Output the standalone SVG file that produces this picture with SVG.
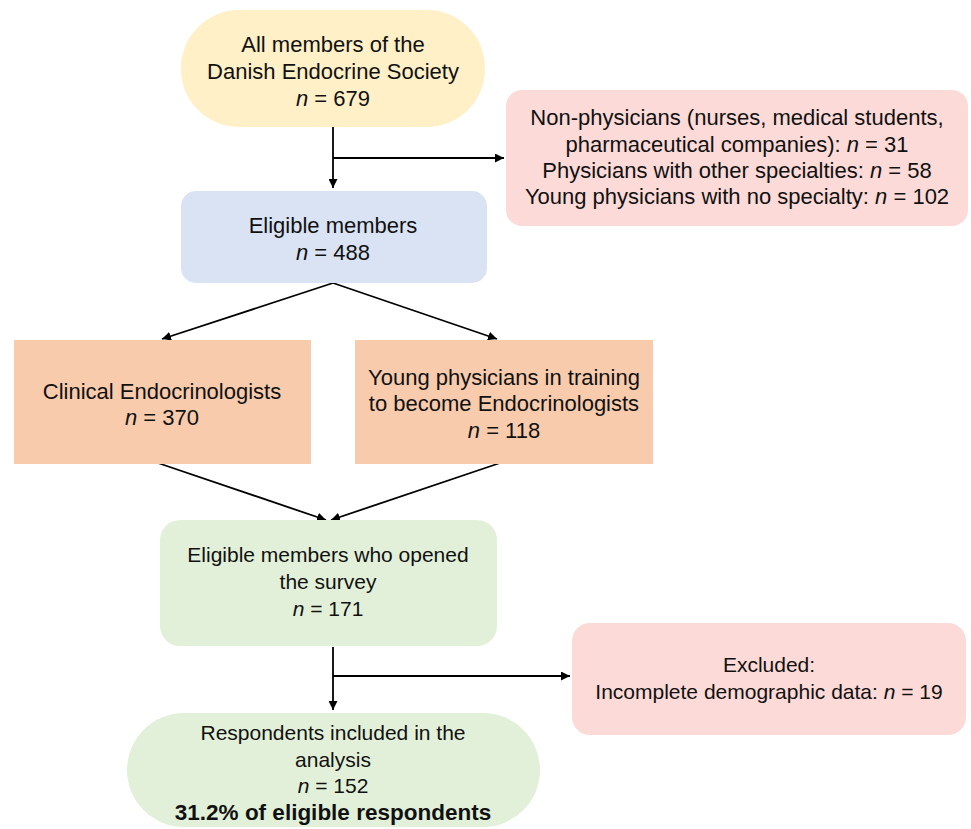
<svg xmlns="http://www.w3.org/2000/svg" width="971" height="829" viewBox="0 0 971 829">
<defs>
<marker id="ah" viewBox="0 0 10 10" refX="10" refY="5" markerWidth="5" markerHeight="5" orient="auto" markerUnits="strokeWidth">
<path d="M0,0 L10,5 L0,10 Z" fill="#000"/>
</marker>
<style>
text{font-family:"Liberation Sans",Arial,sans-serif;font-size:21px;fill:#111;text-anchor:middle}
.u{font-size:22px}
.b{font-weight:bold;font-size:22.5px}
.c{stroke:#000;stroke-width:1.8;fill:none}
</style>
</defs>
<rect width="971" height="829" fill="#fff"/>
<g id="connectors">
<line class="c" x1="333" y1="127" x2="333" y2="188" marker-end="url(#ah)"/>
<line class="c" x1="333" y1="158" x2="504" y2="158" marker-end="url(#ah)"/>
<line class="c" x1="333" y1="283" x2="162" y2="339" marker-end="url(#ah)"/>
<line class="c" x1="333" y1="283" x2="497" y2="339" marker-end="url(#ah)"/>
<line class="c" x1="158" y1="463" x2="326" y2="520" marker-end="url(#ah)"/>
<line class="c" x1="500" y1="463" x2="331" y2="520" marker-end="url(#ah)"/>
<line class="c" x1="333" y1="647" x2="333" y2="710" marker-end="url(#ah)"/>
<line class="c" x1="333" y1="676" x2="570" y2="676" marker-end="url(#ah)"/>
</g>
<g id="all-members" class="u">
<rect x="181" y="10" width="304" height="117" rx="58" fill="#FFF0C7"/>
<text class="u" x="333" y="52">All members of the</text>
<text class="u" x="333" y="79">Danish Endocrine Society</text>
<text class="u" x="333" y="106"><tspan font-style="italic">n</tspan> = 679</text>
</g>
<g id="excluded-1">
<rect x="506" y="90" width="462" height="136" rx="16" fill="#FCDAD7"/>
<text class="u" x="737" y="125">Non-physicians (nurses, medical students,</text>
<text class="u" x="737" y="152">pharmaceutical  companies): <tspan font-style="italic">n</tspan> = 31</text>
<text class="u" x="737" y="178">Physicians with other specialties: <tspan font-style="italic">n</tspan> = 58</text>
<text class="u" x="737" y="204">Young physicians with no specialty: <tspan font-style="italic">n</tspan> = 102</text>
</g>
<g id="eligible">
<rect x="181" y="191" width="306" height="92" rx="15" fill="#DAE3F3"/>
<text class="u" x="333" y="233">Eligible members</text>
<text class="u" x="333" y="260"><tspan font-style="italic">n</tspan> = 488</text>
</g>
<g id="clinical">
<rect x="14" y="340" width="297" height="124" fill="#F8CBAD"/>
<text class="u" x="162" y="399">Clinical Endocrinologists</text>
<text class="u" x="162" y="425"><tspan font-style="italic">n</tspan> = 370</text>
</g>
<g id="young">
<rect x="355" y="340" width="298" height="124" fill="#F8CBAD"/>
<text class="u" x="504" y="385">Young physicians in training</text>
<text class="u" x="504" y="411">to become Endocrinologists</text>
<text class="u" x="504" y="438"><tspan font-style="italic">n</tspan> = 118</text>
</g>
<g id="opened">
<rect x="160" y="520" width="337" height="126" rx="20" fill="#E2F0D9"/>
<text x="328" y="562">Eligible members who opened</text>
<text x="328" y="589">the survey</text>
<text x="328" y="616"><tspan font-style="italic">n</tspan> = 171</text>
</g>
<g id="excluded-2">
<rect x="572" y="623" width="394" height="112" rx="18" fill="#FCDAD7"/>
<text x="769" y="672">Excluded:</text>
<text x="769" y="699">Incomplete demographic data: <tspan font-style="italic">n</tspan> = 19</text>
</g>
<g id="respondents">
<rect x="127" y="713" width="413" height="114" rx="57" fill="#E2F0D9"/>
<text x="333" y="740">Respondents included in the</text>
<text x="333" y="767">analysis</text>
<text x="333" y="793"><tspan font-style="italic">n</tspan> = 152</text>
<text x="333" y="820" class="b">31.2% of eligible respondents</text>
</g>
</svg>
